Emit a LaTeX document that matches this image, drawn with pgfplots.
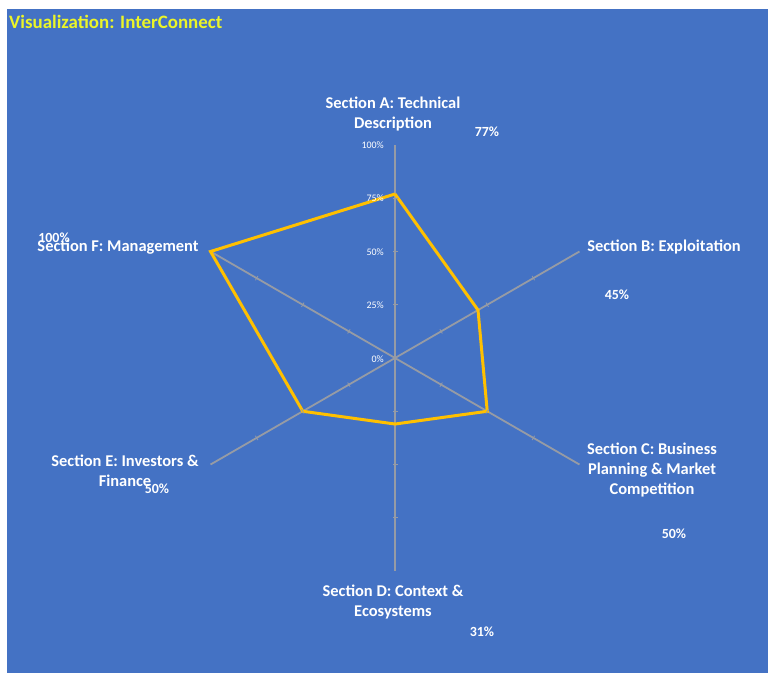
\documentclass[border=0pt]{standalone}
\usepackage{pgfplots}
\pgfplotsset{compat=1.18}
\usepgfplotslibrary{polar}
\usepackage{fontspec}
\setmainfont{Carlito}

\definecolor{bgblue}{RGB}{68,114,196}
\definecolor{spoke}{RGB}{150,155,165}
\definecolor{gold}{RGB}{255,192,0}
\definecolor{titleyellow}{RGB}{235,245,40}

\begin{document}
\begin{tikzpicture}[x=1bp,y=1bp]
% page and chart area
\fill[white] (0,0) rectangle (770,-675);
\fill[bgblue] (7,-9) rectangle (768,-673);

\begin{polaraxis}[
    at={(395bp,-358bp)}, anchor=center,
    width=426bp, height=426bp, scale only axis,
    xmin=0, xmax=360, ymin=0, ymax=100,
    hide axis, clip=false,
]
% spokes
\addplot[spoke, line width=1.8bp] coordinates {(90,100) (270,100)};
\addplot[spoke, line width=1.8bp] coordinates {(30,100) (210,100)};
\addplot[spoke, line width=1.8bp] coordinates {(150,100) (330,100)};
% small ticks along spokes
\addplot[spoke, only marks, mark=-, mark size=2.5bp, mark options={line width=0.8bp}]
    coordinates {(90,25) (90,50) (90,75) (270,25) (270,50) (270,75)};
\addplot[spoke, only marks, mark=-, mark size=2.5bp, mark options={line width=0.8bp, rotate=-60}]
    coordinates {(30,25) (30,50) (30,75) (210,25) (210,50) (210,75)};
\addplot[spoke, only marks, mark=-, mark size=2.5bp, mark options={line width=0.8bp, rotate=60}]
    coordinates {(150,25) (150,50) (150,75) (330,25) (330,50) (330,75)};
% scores
\addplot[gold, line width=3bp, line join=miter] coordinates {
    (90,77)   % A
    (30,45)   % B
    (-30,50)  % C
    (-90,31)  % D
    (-150,50) % E
    (150,100) % F
    (90,77)
};
\end{polaraxis}

% title
\node[anchor=west, text=titleyellow, font=\fontsize{19}{20}\selectfont\bfseries, inner sep=0pt] at (9,-22) {Visualization: InterConnect};

% radial tick labels
\begin{scope}[every node/.style={anchor=east, text=white, font=\fontsize{10}{11}\selectfont, inner sep=0pt}]
\node at (384,-145) {100\%};
\node at (384,-198) {75\%};
\node at (384,-252) {50\%};
\node at (384,-305) {25\%};
\node at (384,-359) {0\%};
\end{scope}

% category labels
\begin{scope}[every node/.style={text=white, align=center, font=\fontsize{16.5}{20.5}\selectfont\bfseries, inner sep=0pt}]
\node at (393,-114) {Section A: Technical\\Description};
\node at (664,-247) {Section B: Exploitation};
\node at (652,-470) {Section C: Business\\Planning \& Market\\Competition};
\node at (393,-602) {Section D: Context \&\\Ecosystems};
\node at (125,-471) {Section E: Investors \&\\Finance};
\node at (118,-247) {Section F: Management};
\end{scope}

% value labels
\begin{scope}[every node/.style={text=white, font=\fontsize{14}{15}\selectfont\bfseries, inner sep=0pt}]
\node at (487,-132) {77\%};
\node at (617,-295) {45\%};
\node at (674,-534) {50\%};
\node at (482,-632) {31\%};
\node at (157,-489) {50\%};
\node at (54,-238) {100\%};
\end{scope}
\end{tikzpicture}
\end{document}
